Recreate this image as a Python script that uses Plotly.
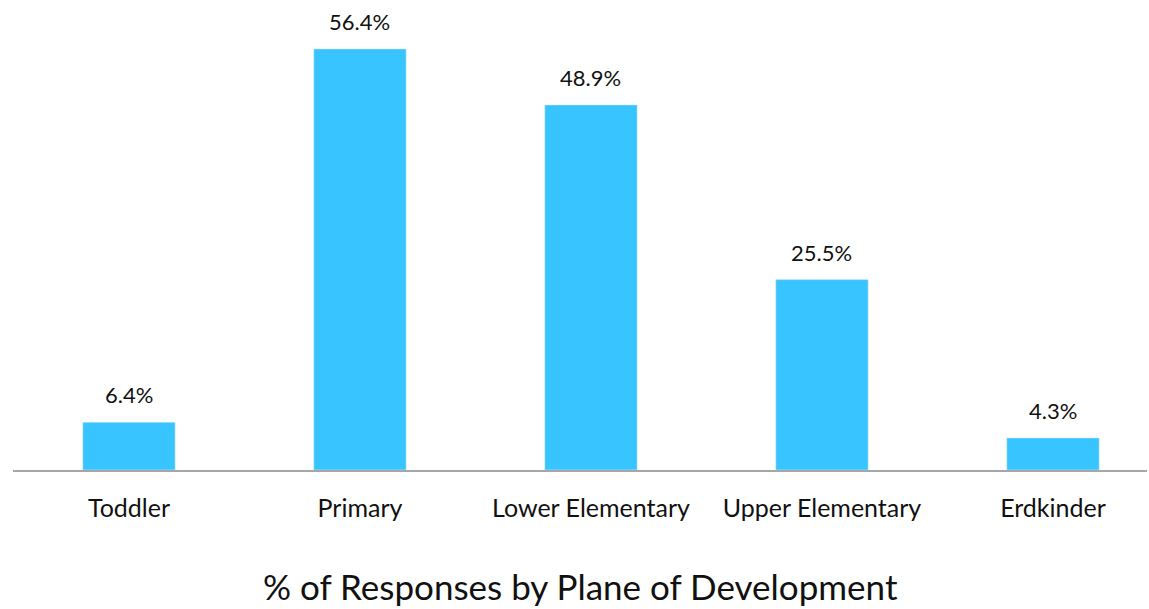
import plotly.graph_objects as go

categories = ["Toddler", "Primary", "Lower Elementary", "Upper Elementary", "Erdkinder"]
values = [6.4, 56.4, 48.9, 25.5, 4.3]
title_text = "% of Responses by Plane of Development"

FONT = "Lato, 'Open Sans', sans-serif"
BAR_COLOR = "#38C4FF"

fig = go.Figure(go.Bar(
    x=categories, y=values, marker_color=BAR_COLOR, width=0.4,
    hoverinfo="x+y",
))

for c, v in zip(categories, values):
    fig.add_annotation(x=c, y=v, text=f"{v:.1f}%", showarrow=False,
                       yanchor="bottom", yshift=12,
                       font=dict(family=FONT, size=22, color="#111111"))

fig.add_annotation(xref="paper", yref="paper", x=0.5, y=-0.259, yanchor="middle",
                   text=title_text, showarrow=False,
                   font=dict(family=FONT, size=35, color="#111111"))

fig.update_layout(
    width=1149, height=609,
    margin=dict(l=13, r=2, t=22, b=139),
    paper_bgcolor="white", plot_bgcolor="white",
    showlegend=False,
    bargap=0.6,
)
fig.update_xaxes(range=[-0.502, 4.407], showline=True, linecolor="#A6A6A6", linewidth=2,
                 ticks="", ticklabelstandoff=15, showgrid=False, zeroline=False,
                 tickfont=dict(family=FONT, size=25, color="#111111"))
fig.update_yaxes(range=[0, 60], visible=False, showgrid=False, zeroline=False)

fig.write_html("out.html")
